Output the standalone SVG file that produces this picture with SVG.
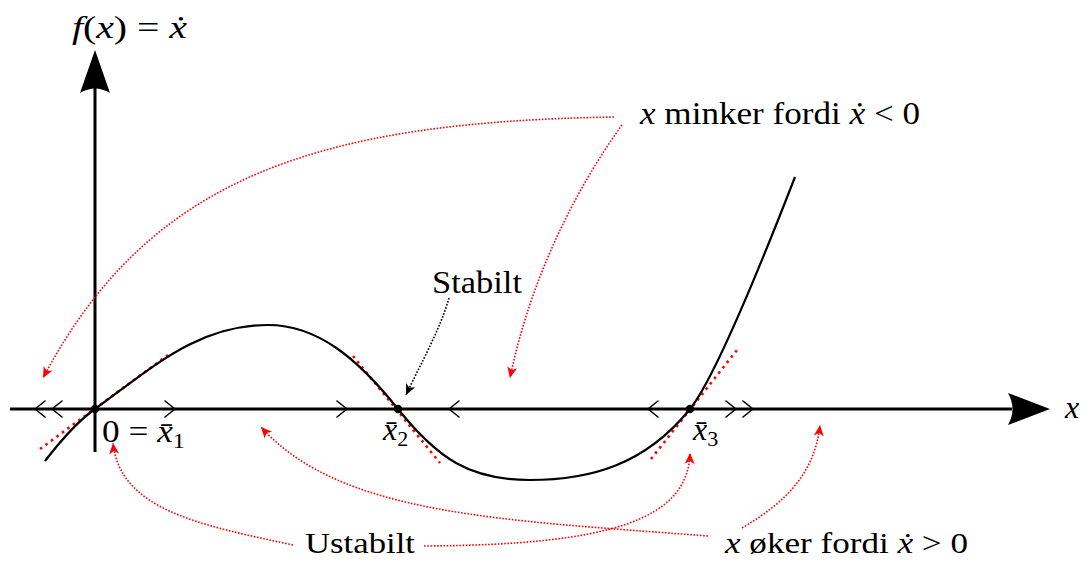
<svg xmlns="http://www.w3.org/2000/svg" width="1081" height="561" viewBox="0 0 1081 561">
<style>
.lbl{font-family:"Liberation Serif","Times New Roman",serif;font-size:32px;fill:#000}
.bot{font-size:30px}
.it{font-style:italic}
.sub{font-size:22px}
.axis{stroke:#000;stroke-width:3;fill:none}
.curve{stroke:#000;stroke-width:2.2;fill:none}
.tan{stroke:#f00;stroke-width:2.6;stroke-dasharray:2.6 4.2;fill:none}
.ann{stroke:#f00;stroke-width:1.6;stroke-dasharray:1.6 1.6;fill:none}
.annk{stroke:#000;stroke-width:1.6;stroke-dasharray:1.6 1.6;fill:none}
.chev{stroke:#000;stroke-width:1.6;fill:none;stroke-linecap:round;stroke-linejoin:round}
</style>
<defs>
<marker id="ra" markerUnits="userSpaceOnUse" markerWidth="14" markerHeight="12" viewBox="-12 -6 14 12" refX="0" refY="0" orient="auto">
<path d="M0,0 L-11,-5 L-8,0 L-11,5 Z" fill="#f00"/>
</marker>
<marker id="ka" markerUnits="userSpaceOnUse" markerWidth="14" markerHeight="12" viewBox="-12 -6 14 12" refX="0" refY="0" orient="auto">
<path d="M0,0 L-11,-5 L-8,0 L-11,5 Z" fill="#000"/>
</marker>
</defs>
<g id="axes">
<line class="axis" x1="10" y1="409" x2="1012" y2="409"/>
<line class="axis" x1="95" y1="452" x2="95" y2="88"/>
<path d="M1050,409 L1008,393 Q1017,409 1008,425 Z" fill="#000"/>
<path d="M95,50 L80,93 Q95,84 110,93 Z" fill="#000"/>
</g>
<g id="chevrons">
<polyline class="chev" points="45,401 35,409 45,417"/>
<polyline class="chev" points="62,401 52,409 62,417"/>
<polyline class="chev" points="165,401 175,409 165,417"/>
<polyline class="chev" points="337,401 347,409 337,417"/>
<polyline class="chev" points="459,401 449,409 459,417"/>
<polyline class="chev" points="658,401 648,409 658,417"/>
<polyline class="chev" points="726,401 736,409 726,417"/>
<polyline class="chev" points="743,401 753,409 743,417"/>
</g>
<g id="tangents">
<line class="tan" x1="40" y1="449" x2="168" y2="355"/>
<line class="tan" x1="353" y1="356" x2="440" y2="463"/>
<line class="tan" x1="651" y1="459" x2="737" y2="350"/>
</g>
<g id="fcurve">
<path class="curve" d="M45,461 C62,439 78,421 95,409 C153,367 198,325 268,325 C318,325 358,359 398,409 C438,459 470,480 530,480 C590,480 645,465 690,409 C715,378 767,249 795,177"/>
</g>
<g id="points">
<circle cx="95" cy="409" r="4.2" fill="#000"/>
<circle cx="398" cy="409" r="4.2" fill="#000"/>
<circle cx="690" cy="409" r="4.2" fill="#000"/>
</g>
<g id="connectors">
<path class="ann" d="M614,117 C320,122 150,175 43,378" marker-end="url(#ra)"/>
<path class="ann" d="M622,125 C575,190 530,280 510,378" marker-end="url(#ra)"/>
<path class="annk" d="M449,298 C440,330 420,365 406,395" marker-end="url(#ka)"/>
<path class="ann" d="M293,545 C200,525 120,510 113,443" marker-end="url(#ra)"/>
<path class="ann" d="M424,546 C610,545 688,520 690,453" marker-end="url(#ra)"/>
<path class="ann" d="M708,536 C500,520 340,515 261,427" marker-end="url(#ra)"/>
<path class="ann" d="M742,528 C790,500 815,470 820,425" marker-end="url(#ra)"/>
</g>
<g id="label-fx"><text class="lbl" x="72" y="38" textLength="115" lengthAdjust="spacingAndGlyphs"><tspan class="it">f</tspan>(<tspan class="it">x</tspan>) = <tspan class="it">ẋ</tspan></text></g>
<g id="label-xaxis"><text class="lbl it" x="1065" y="418">x</text></g>
<g id="label-x1"><text class="lbl" x="102" y="442" textLength="83" lengthAdjust="spacingAndGlyphs">0 = <tspan class="it">x̄</tspan><tspan class="sub" dy="6">1</tspan></text></g>
<g id="label-x2"><text class="lbl" x="383" y="440"><tspan class="it">x̄</tspan><tspan class="sub" dy="6">2</tspan></text></g>
<g id="label-x3"><text class="lbl" x="693" y="440"><tspan class="it">x̄</tspan><tspan class="sub" dy="6">3</tspan></text></g>
<g id="label-minker"><text class="lbl" x="640" y="124" textLength="280" lengthAdjust="spacingAndGlyphs"><tspan class="it">x</tspan> minker fordi <tspan class="it">ẋ</tspan> &lt; 0</text></g>
<g id="label-stabilt"><text class="lbl" x="432" y="293" textLength="90" lengthAdjust="spacingAndGlyphs">Stabilt</text></g>
<g id="label-ustabilt"><text class="lbl bot" x="305" y="553" textLength="110" lengthAdjust="spacingAndGlyphs">Ustabilt</text></g>
<g id="label-oker"><text class="lbl bot" x="725" y="553" textLength="243" lengthAdjust="spacingAndGlyphs"><tspan class="it">x</tspan> øker fordi <tspan class="it">ẋ</tspan> &gt; 0</text></g>
</svg>
